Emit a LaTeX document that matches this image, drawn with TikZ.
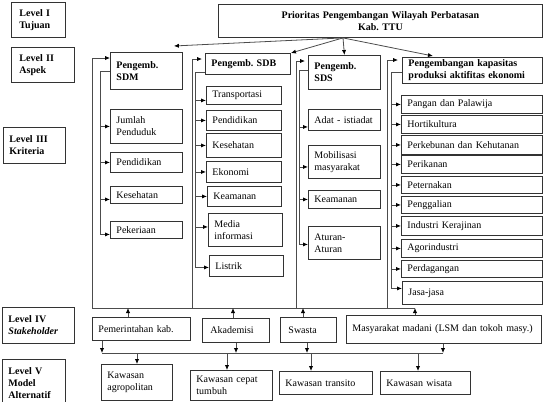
\documentclass[tikz,border=0pt]{standalone}
\usepackage{fontspec}
\setmainfont{Liberation Serif}
\usetikzlibrary{arrows.meta,calc}
\frenchspacing
\newcommand\B[7]{\pgfmathsetmacro\bw{#4-#2}\pgfmathsetmacro\bh{#5-#3}\pgfmathsetmacro\tw{#4-#2-12}%
\node[box,minimum width=\bw pt,minimum height=\bh pt,text width=\tw pt,anchor=north west,#6] (#1) at (#2,#3) {#7};}
\begin{document}
\begin{tikzpicture}[x=1pt,y=-1pt,
  box/.style={draw=black!80,line width=0.9pt,inner xsep=6pt,inner ysep=1pt,font=\fontsize{10}{12}\selectfont\frenchspacing,align=left},
  bf/.style={font=\fontsize{10}{12}\selectfont\bfseries\frenchspacing},
  ln/.style={draw=black!70,line width=0.8pt},
  arr/.style={ln,-{Latex[length=5pt,width=4.2pt,color=black]}},
]
\useasboundingbox (0,0) rectangle (550,402);
% level labels
\B{L1}{11}{2}{65}{37}{bf}{\hspace*{2pt}Level I\\\hspace*{2pt}Tujuan}
\B{L2}{11}{47}{74}{82}{bf}{\hspace*{2pt}Level II\\\hspace*{2pt}Aspek}
\B{L3}{3}{127}{65}{163}{bf}{Level III\\Kriteria}
\B{L4}{2}{307}{74}{343}{bf}{Level IV\\\textit{Stakeholder}}
\B{L5}{2}{359}{65}{406}{bf}{Level V\\Model\\Alternatif}
% goal
\B{T}{218}{4}{542}{37}{bf,align=center}{Prioritas Pengembangan Wilayah Perbatasan\\Kab. TTU}
% aspects
\B{A1}{110}{52}{182}{89}{bf}{Pengemb.\\SDM}
\B{A2}{205}{53}{290}{74}{bf}{Pengemb. SDB}
\B{A3}{308}{55}{380}{89}{bf}{Pengemb.\\SDS}
\B{A4}{402}{57}{542}{83}{bf}{Pengembangan kapasitas\\produksi aktifitas ekonomi}
% criteria SDM
\B{C11}{110}{109}{182}{143}{}{Jumlah\\Penduduk}
\B{C12}{110}{152}{182}{172}{}{Pendidikan}
\B{C13}{110}{186}{182}{203}{}{Kesehatan}
\B{C14}{110}{221}{182}{238}{}{Pekeriaan}
% criteria SDB
\B{C21}{206}{86}{281}{104}{}{Transportasi}
\B{C22}{206}{110}{281}{130}{}{Pendidikan}
\B{C23}{206}{133}{281}{157}{}{Kesehatan}
\B{C24}{206}{161}{281}{182}{}{Ekonomi}
\B{C25}{207}{186}{281}{206}{}{Keamanan}
\B{C26}{208}{213}{282}{246}{}{Media\\informasi}
\B{C27}{209}{255}{283}{276}{}{Listrik}
% criteria SDS
\B{C31}{308}{109}{380}{130}{}{Adat - istiadat}
\B{C32}{308}{145}{380}{178}{}{Mobilisasi\\masyarakat}
\B{C33}{308}{190}{380}{208}{}{Keamanan}
\B{C34}{308}{226}{380}{259}{}{Aturan-\\Aturan}
% criteria economy
\B{C41}{401}{95}{542}{113}{}{Pangan dan Palawija}
\B{C42}{401}{115}{542}{133}{}{Hortikultura}
\B{C43}{401}{135}{542}{154}{}{Perkebunan dan Kehutanan}
\B{C44}{401}{155}{542}{173}{}{Perikanan}
\B{C45}{401}{176}{542}{193}{}{Peternakan}
\B{C46}{401}{196}{542}{213}{}{Penggalian}
\B{C47}{401}{216}{542}{235}{}{Industri Kerajinan}
\B{C48}{401}{239}{542}{257}{}{Agorindustri}
\B{C49}{401}{260}{542}{277}{}{Perdagangan}
\B{C410}{402}{281}{542}{304}{}{Jasa-jasa}
% stakeholders
\B{S1}{92}{317}{190}{340}{}{Pemerintahan kab.}
\B{S2}{202}{318}{265}{342}{inner xsep=8pt}{Akademisi}
\B{S3}{280}{317}{332}{342}{inner xsep=8pt}{Swasta}
\B{S4}{346}{315}{541}{343}{}{Masyarakat madani (LSM dan tokoh masy.)}
% alternatives
\B{V1}{101}{364}{172}{400}{}{Kawasan\\agropolitan}
\B{V2}{190}{370}{272}{400}{}{Kawasan cepat\\tumbuh}
\B{V3}{279}{371}{372}{394}{}{Kawasan transito}
\B{V4}{380}{371}{470}{394}{}{Kawasan wisata}

% goal -> aspects
\coordinate (tp) at (T.south -| 343,0);
\draw[arr] (tp) -- ([xshift=-9pt,yshift=6pt]A1.north east);
\draw[arr] (tp) -- (A2.north east);
\draw[arr] (tp) -- (A3.north);
\draw[arr] (tp) -- ([xshift=31pt,yshift=1pt]A4.north west);

% outer frame
\coordinate (fb1) at (92,308);
\coordinate (fb2) at (192,308);
\coordinate (fb3) at (296,308);
\coordinate (fb4) at (387,308);
\coordinate (fbe) at (415,308);
\draw[ln] (fb1) -- (fbe);
\draw[arr] (fb1) |- ([yshift=-6pt]A1.north west);
\draw[arr,shorten >=3pt] (fb2) |- ([yshift=-6pt]A2.north west);
\draw[arr,shorten >=3pt] (fb3) |- ([yshift=-6pt]A3.north west);
\draw[arr,shorten >=4pt] (fb4) |- ([yshift=-3pt]A4.north west);

% spine SDM
\coordinate (s1) at ($(A1.west)+(-10,0)$);
\coordinate (t13) at ([yshift=-4.5pt]C13.west);
\coordinate (t14) at ([yshift=-4.5pt]C14.west);
\draw[ln] (A1.west) -- (s1) -- (s1 |- t14);
\foreach \c in {C11,C12}{\draw[arr] (s1 |- \c.west) -- (\c.west);}
\foreach \c in {t13,t14}{\draw[arr] (s1 |- \c) -- (\c);}

% spine SDB
\coordinate (a2s) at ([yshift=3pt]A2.south west);
\coordinate (s2) at ($(a2s)+(-10,0)$);
\coordinate (t21) at ([yshift=-5pt]C21.west);
\coordinate (t26) at ([yshift=3pt]C26.west);
\coordinate (t27) at ([yshift=-1.5pt]C27.west);
\draw[ln] (a2s) -- (s2) -- (s2 |- t27);
\foreach \c in {C22,C23,C24,C25}{\draw[arr] (s2 |- \c.west) -- (\c.west);}
\foreach \c in {t21,t26,t27}{\draw[arr] (s2 |- \c) -- (\c);}

% spine SDS
\coordinate (s3) at ($(A3.west)+(-9,-2)$);
\coordinate (t31) at ([yshift=-7pt]C31.west);
\coordinate (t32) at ([yshift=-5pt]C32.west);
\coordinate (t34) at ([yshift=-1.5pt]C34.west);
\draw[ln] ([yshift=2pt]A3.west) -- (s3) -- (s3 |- t34);
\foreach \c in {C33}{\draw[arr] (s3 |- \c.west) -- (\c.west);}
\foreach \c in {t31,t32,t34}{\draw[arr] (s3 |- \c) -- (\c);}

% spine economy
\coordinate (s4) at ($(A4.west)+(-11,2)$);
\coordinate (t410) at ([yshift=4.5pt]C410.west);
\draw[ln] ([yshift=-2pt]A4.west) -- (s4) -- (s4 |- t410);
\foreach \c in {C41,C42,C43,C44,C45,C46,C47,C48,C49}{\draw[arr] (s4 |- \c.west) -- (\c.west);}
\draw[arr] (s4 |- t410) -- (t410);

% stakeholders -> frame
\coordinate (u1) at ([xshift=36pt]S1.north west);
\coordinate (u2) at ([xshift=31pt]S2.north west);
\coordinate (u3) at ([xshift=23pt]S3.north west);
\coordinate (u4) at ([xshift=69pt]S4.north west);
\foreach \u in {u1,u2,u3,u4}{\draw[arr] (\u) -- (\u |- fb1);}

% stakeholders -> bus
\coordinate (bl) at (102,353);
\coordinate (br) at (443,353);
\draw[ln] (bl) -- (br);
\coordinate (d1) at ([xshift=10pt]S1.south west);
\coordinate (d2) at ([xshift=34pt]S2.south west);
\coordinate (d3) at ([xshift=27pt]S3.south west);
\coordinate (d4) at (S4.south -| br);
\foreach \d in {d1,d2,d3,d4}{\draw[arr] (\d) -- (\d |- bl);}

% bus -> alternatives
\coordinate (v1) at ([xshift=36pt]V1.north west);
\coordinate (v2) at ([xshift=37pt]V2.north west);
\coordinate (v3) at ([xshift=32pt]V3.north west);
\coordinate (v4) at ([xshift=38pt]V4.north west);
\foreach \v in {v1,v2,v3,v4}{\draw[arr] (\v |- bl) -- (\v);}
\end{tikzpicture}
\end{document}
